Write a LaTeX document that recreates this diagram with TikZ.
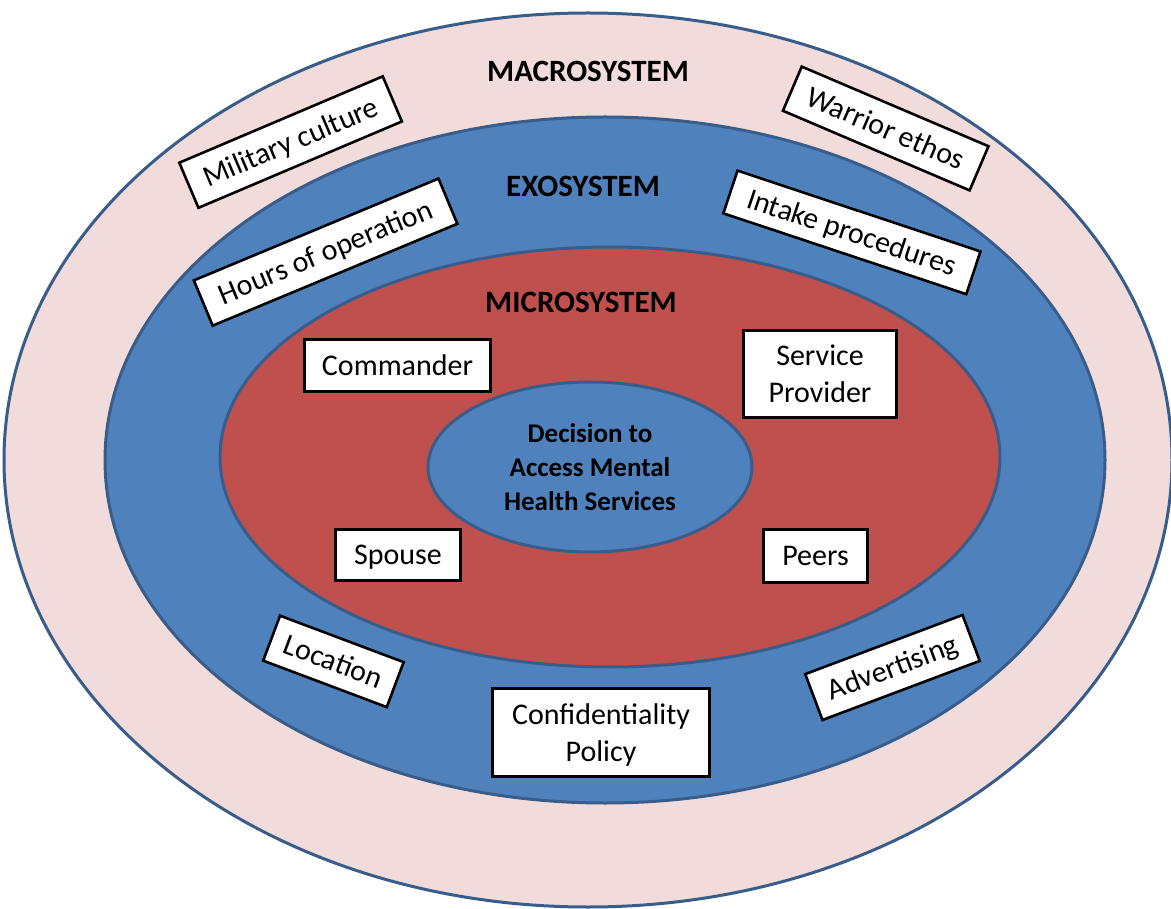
\documentclass[tikz,border=0pt]{standalone}
\usepackage{fontspec}
\setmainfont{Carlito}
\usetikzlibrary{shapes.geometric}
\definecolor{pinkfill}{HTML}{F2DCDB}
\definecolor{bluefill}{HTML}{4F81BD}
\definecolor{redfill}{HTML}{C0504D}
\definecolor{edgeblue}{HTML}{385D8A}
\begin{document}
\begin{tikzpicture}[x=1pt,y=-1pt,
  ring/.style={draw=edgeblue, line width=3pt},
  lbox/.style={draw=black, fill=white, line width=2.6pt, inner sep=0pt,
    font=\fontsize{30}{37}\selectfont, align=center, text height=19.3pt, text depth=0pt},
  lbox2/.style={draw=black, fill=white, line width=2.6pt, inner sep=0pt,
    font=\fontsize{30}{37}\selectfont, align=center, text depth=0pt},
  head/.style={inner sep=0pt, font=\bfseries\fontsize{31}{37}\selectfont}]
\useasboundingbox (0,0) rectangle (1171,909);
% rings
\draw[ring, fill=pinkfill] (588,460) ellipse [x radius=584pt, y radius=447pt];
\draw[ring, fill=bluefill] (605,460) ellipse [x radius=500pt, y radius=343pt];
\draw[ring, fill=redfill] (610,457) ellipse [x radius=390pt, y radius=210pt];
\node[ellipse, ring, fill=bluefill, minimum width=324pt, minimum height=170pt, inner sep=0pt,
  font=\bfseries\fontsize{27}{34}\selectfont, align=center, text depth=0pt]
  (core) at (590,467) {Decision to\\Access Mental\\Health Services};
% headings
\node[head] (macro) at (588,71) {MACROSYSTEM};
\node[head] (exo) at (583,186) {EXOSYSTEM};
\node[head] (micro) at (581,302.5) {MICROSYSTEM};
% macrosystem boxes
\node[lbox, rotate=23, minimum width=221pt, minimum height=49pt] (mil) at (290.6,142.1) {Military culture};
\node[lbox, rotate=-23.1, minimum width=203pt, minimum height=48pt] (war) at (885.7,128.5) {Warrior ethos};
% exosystem boxes
\node[lbox, rotate=22.6, minimum width=265pt, minimum height=49pt] (hours) at (325.6,252.1) {Hours of operation};
\node[lbox, rotate=-18.4, minimum width=256pt, minimum height=45pt] (intake) at (851.9,232.4) {Intake procedures};
\node[lbox, rotate=-20.6, minimum width=132pt, minimum height=48pt] (loc) at (333.4,661.4) {Location};
\node[lbox, rotate=20.6, minimum width=168pt, minimum height=49pt] (adv) at (892.5,667.5) {Advertising};
\node[lbox2, minimum width=217pt, minimum height=88pt] (conf) at (601,732.5) {Confidentiality\\Policy};
% microsystem boxes
\node[lbox, minimum width=186pt, minimum height=52pt] (cmd) at (397.5,365.5) {Commander};
\node[lbox2, minimum width=153pt, minimum height=87pt] (serv) at (820,374) {Service\\Provider};
\node[lbox, minimum width=125pt, minimum height=51pt] (spouse) at (398,555) {Spouse};
\node[lbox, minimum width=104pt, minimum height=53pt] (peers) at (815.5,556) {Peers};
\end{tikzpicture}
\end{document}
